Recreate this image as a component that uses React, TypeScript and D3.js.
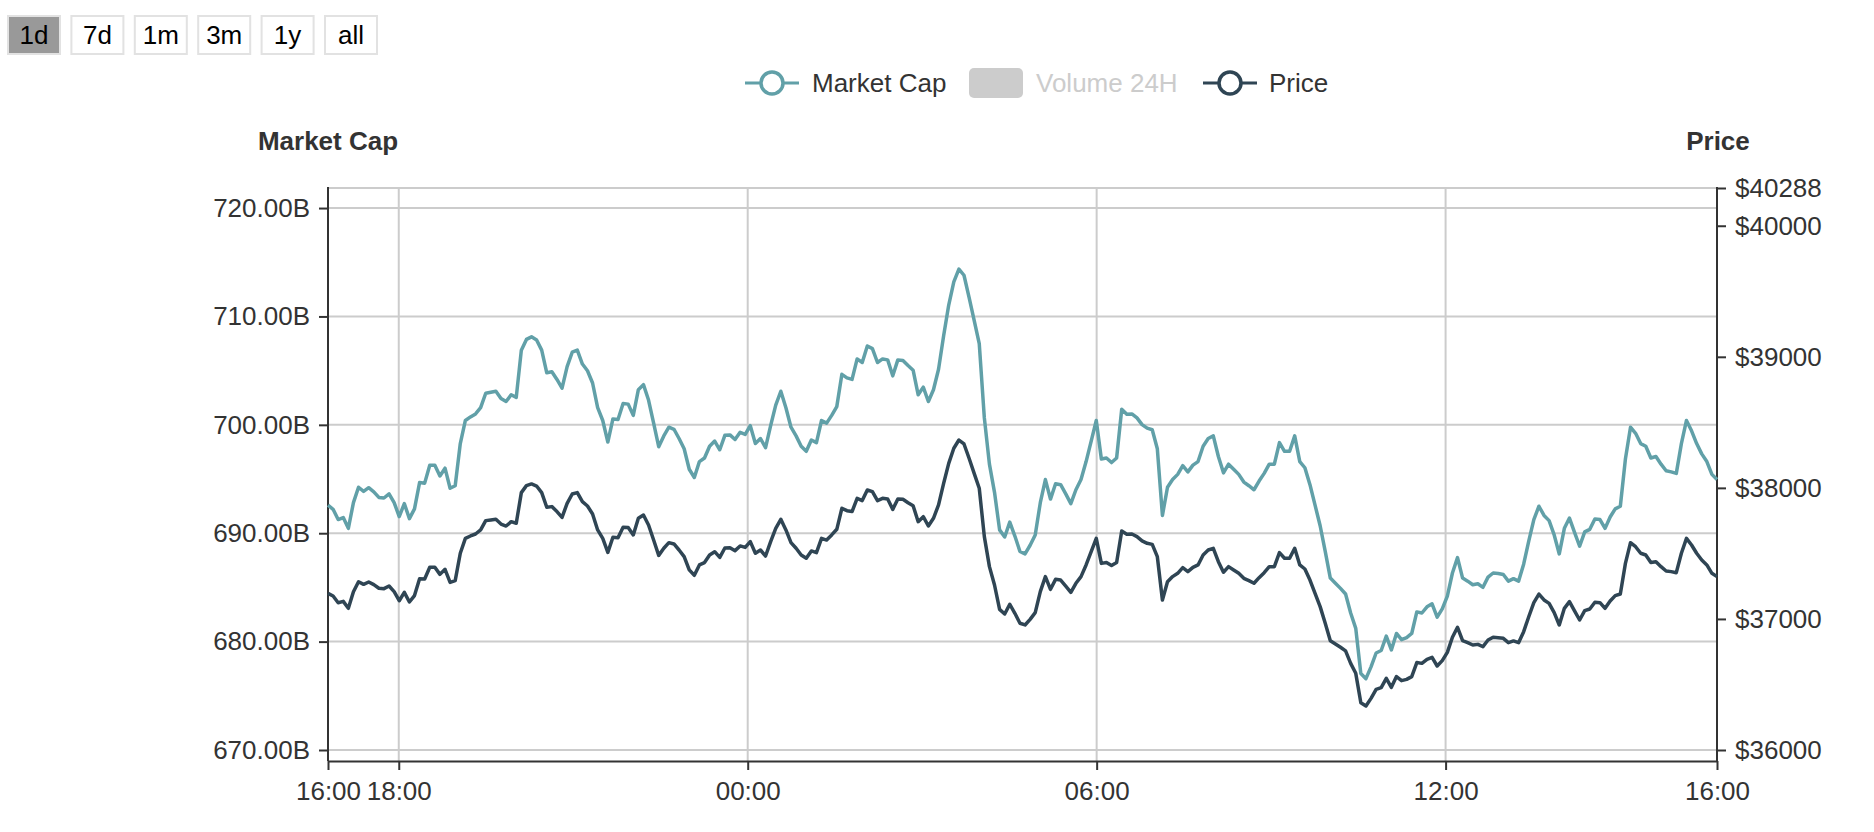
import React, { useEffect, useRef } from "react";
import * as d3 from "d3";

const rangeButtons = ["1d", "7d", "1m", "3m", "1y", "all"];
const legendNames = ["Market Cap", "Volume 24H", "Price"];

const startTime = new Date(2021, 4, 24, 16, 47);
const endTime = new Date(2021, 4, 25, 16, 40);
const hourTicks = [
  new Date(2021, 4, 24, 18, 0),
  new Date(2021, 4, 25, 0, 0),
  new Date(2021, 4, 25, 6, 0),
  new Date(2021, 4, 25, 12, 0),
];
const capTicks = [670, 680, 690, 700, 710, 720];
const priceTicks = [36000, 37000, 38000, 39000, 40000, 40288];

// market cap in billions, ~5 min samples
const marketCap = [
  692.59, 692.21, 691.26, 691.45, 690.45, 692.82, 694.24, 693.86, 694.2, 693.82,
  693.3, 693.25, 693.63, 692.82, 691.54, 692.73, 691.35, 692.25, 694.67, 694.62,
  696.28, 696.28, 695.28, 696.0, 694.15, 694.38, 698.27, 700.4, 700.73, 701.01,
  701.58, 702.91, 703.0, 703.1, 702.43, 702.15, 702.77, 702.53, 706.89, 707.88,
  708.12, 707.83, 706.89, 704.8, 704.9, 704.19, 703.38, 705.37, 706.7, 706.89,
  705.61, 704.99, 703.86, 701.58, 700.4, 698.41, 700.54, 700.49, 701.96, 701.91,
  700.87, 703.24, 703.71, 702.29, 700.16, 697.98, 698.98, 699.78, 699.59, 698.74,
  697.79, 695.9, 695.14, 696.61, 696.94, 698.03, 698.5, 697.7, 699.03, 699.07,
  698.65, 699.31, 699.12, 699.92, 698.27, 698.74, 697.89, 699.92, 701.82, 703.1,
  701.58, 699.78, 698.98, 698.03,
  697.56, 698.6, 698.36, 700.4, 700.16, 700.87, 701.68, 704.66, 704.33, 704.19,
  706.08, 705.75, 707.27, 707.03, 705.75, 706.08, 705.99, 704.52, 705.99, 705.94,
  705.47, 705.04, 702.77, 703.48, 702.15, 703.24, 705.13, 708.21, 711.05, 713.19,
  714.37, 713.8, 711.76, 709.63, 707.5, 700.64, 696.37, 693.77, 690.31, 689.65,
  691.02, 689.74, 688.32, 688.09, 688.89, 689.84, 692.82, 694.95, 693.15, 694.57,
  694.48, 693.63, 692.73, 694.01, 694.95, 696.61, 698.5, 700.4, 696.85, 696.94,
  696.52, 696.94, 701.44, 700.97, 701.01, 700.64, 700.02, 699.69, 699.55, 697.79,
  691.64, 694.24, 694.95, 695.43, 696.23, 695.66, 696.28, 696.61, 698.03, 698.74,
  698.98, 697.08, 695.57, 696.37, 695.9, 695.43, 694.72, 694.38, 694.01, 694.81,
  695.52, 696.37, 696.37, 698.36, 697.56, 697.56, 698.98, 696.61, 696.04, 694.48,
  692.59, 690.69, 688.32, 685.86, 685.39, 684.91, 684.39, 682.64, 681.22, 677.05,
  676.58, 677.67, 678.95, 679.18, 680.51, 679.23, 680.75, 680.18, 680.37, 680.75,
  682.74, 682.64, 683.21, 683.49, 682.26, 683.02, 684.2, 686.33, 687.75, 685.86,
  685.58, 685.25, 685.34, 685.01, 685.95, 686.33, 686.29, 686.19, 685.58, 685.81,
  685.58, 687.14, 689.27, 691.26, 692.49, 691.64, 691.16, 689.84, 688.09, 690.45,
  691.4, 690.08, 688.8, 690.12, 690.36, 691.31, 691.26, 690.45, 691.5, 692.25,
  692.49, 696.85, 699.78, 699.22, 698.27, 698.03, 696.94, 697.08, 696.37, 695.76,
  695.66, 695.52, 698.27, 700.4, 699.45, 698.27, 697.32, 696.61, 695.43, 694.95,
];

// price in USD, same timestamps
const price = [
  37195, 37175, 37124, 37134, 37081, 37208, 37284, 37264, 37282, 37262,
  37234, 37231, 37251, 37208, 37139, 37203, 37129, 37178, 37307, 37305,
  37394, 37394, 37340, 37379, 37279, 37292, 37501, 37615, 37633, 37648,
  37679, 37750, 37755, 37760, 37724, 37709, 37742, 37730, 37964, 38017,
  38030, 38014, 37964, 37852, 37857, 37819, 37775, 37882, 37953, 37964,
  37895, 37862, 37801, 37679, 37615, 37508, 37623, 37620, 37699, 37697,
  37641, 37768, 37793, 37717, 37602, 37485, 37539, 37582, 37572, 37526,
  37475, 37374, 37333, 37412, 37430, 37488, 37513, 37470, 37541, 37544,
  37521, 37557, 37546, 37590, 37501, 37526, 37480, 37590, 37691, 37760,
  37679, 37582, 37539, 37488,
  37463, 37519, 37506, 37615, 37602, 37641, 37684, 37844, 37826, 37819,
  37920, 37903, 37984, 37971, 37903, 37920, 37915, 37836, 37915, 37913,
  37887, 37864, 37742, 37780, 37709, 37768, 37870, 38035, 38187, 38302,
  38365, 38335, 38226, 38111, 37997, 37628, 37399, 37259, 37073, 37038,
  37112, 37043, 36967, 36954, 36997, 37048, 37208, 37323, 37226, 37302,
  37297, 37251, 37203, 37272, 37323, 37412, 37513, 37615, 37424, 37430,
  37407, 37430, 37671, 37646, 37648, 37628, 37595, 37577, 37569, 37475,
  37145, 37284, 37323, 37348, 37391, 37361, 37394, 37412, 37488, 37526,
  37539, 37437, 37356, 37399, 37374, 37348, 37310, 37292, 37272, 37315,
  37353, 37399, 37399, 37506, 37463, 37463, 37539, 37412, 37381, 37297,
  37195, 37094, 36967, 36834, 36809, 36784, 36756, 36661, 36585, 36361,
  36336, 36394, 36463, 36476, 36547, 36478, 36560, 36529, 36539, 36560,
  36667, 36661, 36692, 36707, 36641, 36682, 36745, 36860, 36936, 36834,
  36819, 36801, 36806, 36789, 36839, 36860, 36857, 36852, 36819, 36832,
  36819, 36903, 37017, 37124, 37190, 37145, 37119, 37048, 36954, 37081,
  37132, 37061, 36992, 37063, 37076, 37127, 37124, 37081, 37137, 37178,
  37190, 37424, 37582, 37551, 37501, 37488, 37430, 37437, 37399, 37366,
  37361, 37353, 37501, 37615, 37564, 37501, 37450, 37412, 37348, 37323,
];

const capColor = "#61a0a8";
const priceColor = "#2f4554";
const font = "'Liberation Sans', Arial, Helvetica, sans-serif";

const App: React.FC = () => {
  const ref = useRef<SVGSVGElement | null>(null);

  useEffect(() => {
    const svg = d3.select(ref.current);
    svg.selectAll("*").remove();

    const W = 1874;
    const H = 832;
    const left = 328;
    const right = 1717;
    const top = 188;
    const bottom = 750;
    const axisY = 761;

    svg.attr("width", W).attr("height", H).style("font-family", font);

    const times = price.map(
      (_, i) =>
        new Date(
          +startTime + (i * (+endTime - +startTime)) / (price.length - 1)
        )
    );

    const x = d3.scaleTime().domain([startTime, endTime]).range([left, right]);
    const yCap = d3.scaleLinear().domain([670, 721.85]).range([bottom, top]);
    const yPrice = d3
      .scaleLinear()
      .domain([36000, 40288])
      .range([bottom, top]);

    // range buttons
    const btn = svg
      .append("g")
      .selectAll("g")
      .data(rangeButtons)
      .join("g")
      .attr("transform", (d, i) => `translate(${8 + i * 63.4},16)`);
    btn
      .append("rect")
      .attr("width", 52)
      .attr("height", 38)
      .attr("fill", (d, i) => (i === 0 ? "#999" : "#fff"))
      .attr("stroke", "#e2e2e2")
      .attr("stroke-width", 2);
    btn
      .append("text")
      .attr("x", 26)
      .attr("y", 19)
      .attr("dy", "0.35em")
      .attr("text-anchor", "middle")
      .style("font-size", "26px")
      .attr("fill", "#000")
      .text((d) => d);

    // legend
    const legend = svg.append("g").style("font-size", "26px");
    const lineIcon = (cx: number, color: string) => {
      legend
        .append("line")
        .attr("x1", cx - 27)
        .attr("x2", cx + 27)
        .attr("y1", 83)
        .attr("y2", 83)
        .attr("stroke", color)
        .attr("stroke-width", 3);
      legend
        .append("circle")
        .attr("cx", cx)
        .attr("cy", 83)
        .attr("r", 11)
        .attr("fill", "#fff")
        .attr("stroke", color)
        .attr("stroke-width", 3.5);
    };
    lineIcon(772, capColor);
    legend
      .append("text")
      .attr("x", 812)
      .attr("y", 83)
      .attr("dy", "0.35em")
      .attr("fill", "#333")
      .text(legendNames[0]);
    legend
      .append("rect")
      .attr("x", 969)
      .attr("y", 68)
      .attr("width", 54)
      .attr("height", 30)
      .attr("rx", 5)
      .attr("fill", "#ccc");
    legend
      .append("text")
      .attr("x", 1036)
      .attr("y", 83)
      .attr("dy", "0.35em")
      .attr("fill", "#ccc")
      .text(legendNames[1]);
    lineIcon(1230, priceColor);
    legend
      .append("text")
      .attr("x", 1269)
      .attr("y", 83)
      .attr("dy", "0.35em")
      .attr("fill", "#333")
      .text(legendNames[2]);

    // axis names
    svg
      .append("text")
      .attr("x", left)
      .attr("y", 150)
      .attr("text-anchor", "middle")
      .style("font-size", "26px")
      .style("font-weight", "bold")
      .attr("fill", "#333")
      .text("Market Cap");
    svg
      .append("text")
      .attr("x", right + 1)
      .attr("y", 150)
      .attr("text-anchor", "middle")
      .style("font-size", "26px")
      .style("font-weight", "bold")
      .attr("fill", "#333")
      .text("Price");

    // grid
    const grid = svg
      .append("g")
      .attr("stroke", "#ccc")
      .attr("stroke-width", 2);
    grid
      .selectAll("line.h")
      .data([...capTicks.map((t) => yCap(t)), top])
      .join("line")
      .attr("class", "h")
      .attr("x1", left)
      .attr("x2", right)
      .attr("y1", (d) => d)
      .attr("y2", (d) => d);
    grid
      .selectAll("line.v")
      .data(hourTicks)
      .join("line")
      .attr("class", "v")
      .attr("x1", (d) => x(d))
      .attr("x2", (d) => x(d))
      .attr("y1", top)
      .attr("y2", axisY);

    // X Axis
    const xAxis = svg
      .append("g")
      .attr("transform", `translate(0,${axisY})`)
      .call(
        d3
          .axisBottom(x)
          .tickValues([startTime, ...hourTicks, endTime])
          .tickFormat(d3.timeFormat("%H:00") as any)
          .tickSize(9)
          .tickSizeOuter(0)
          .tickPadding(12)
      );

    // Y Axes
    const capAxis = svg
      .append("g")
      .attr("transform", `translate(${left},0)`)
      .call(
        d3
          .axisLeft(yCap)
          .tickValues(capTicks)
          .tickFormat((d) => `${(+d).toFixed(2)}B`)
          .tickSize(9)
          .tickPadding(9)
      );
    const priceAxis = svg
      .append("g")
      .attr("transform", `translate(${right},0)`)
      .call(
        d3
          .axisRight(yPrice)
          .tickValues(priceTicks)
          .tickFormat((d) => `$${d}`)
          .tickSize(9)
          .tickPadding(9)
      );
    capAxis.select(".domain").remove();
    priceAxis.select(".domain").remove();
    [xAxis, capAxis, priceAxis].forEach((a) => {
      a.attr("font-family", font).attr("font-size", 26);
      a.selectAll("text").attr("fill", "#333");
      a.selectAll("line").attr("stroke", "#333").attr("stroke-width", 2);
      a.select(".domain").attr("stroke", "#333").attr("stroke-width", 2);
    });
    svg
      .append("g")
      .attr("stroke", "#333")
      .attr("stroke-width", 2)
      .selectAll("line")
      .data([left, right])
      .join("line")
      .attr("x1", (d) => d)
      .attr("x2", (d) => d)
      .attr("y1", top - 1)
      .attr("y2", axisY);

    // lines
    const capLine = d3
      .line<number>()
      .x((d, i) => x(times[i]))
      .y((d) => yCap(d));
    const priceLine = d3
      .line<number>()
      .x((d, i) => x(times[i]))
      .y((d) => yPrice(d));

    svg
      .append("path")
      .attr("d", capLine(marketCap))
      .attr("fill", "none")
      .attr("stroke", capColor)
      .attr("stroke-width", 3.5)
      .attr("stroke-linejoin", "round");
    svg
      .append("path")
      .attr("d", priceLine(price))
      .attr("fill", "none")
      .attr("stroke", priceColor)
      .attr("stroke-width", 3.5)
      .attr("stroke-linejoin", "round");
  }, []);

  return (
    <div style={{ position: "absolute", left: 0, top: 0 }}>
      <svg ref={ref} style={{ display: "block" }} />
    </div>
  );
};

export default App;
